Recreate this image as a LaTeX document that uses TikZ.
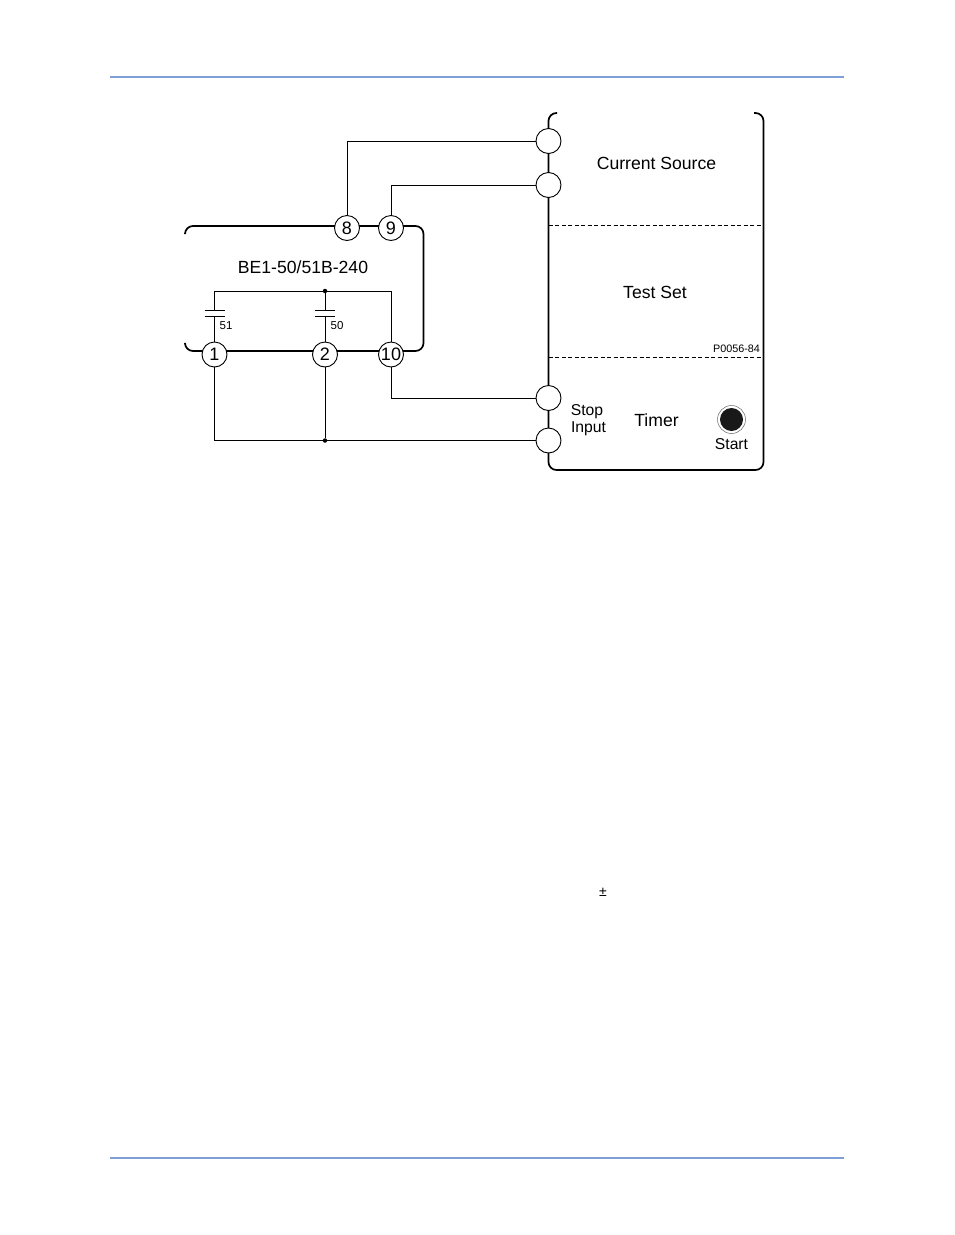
\documentclass[tikz,border=0pt]{standalone}
\usepackage{fontspec}
\setmainfont{Liberation Sans}
\usetikzlibrary{calc}
\definecolor{rulecolor}{RGB}{126,160,214}
\tikzset{
    outline/.style={black,line width=1.7pt,rounded corners=8pt},
    wire/.style={black,line width=0.9pt},
    terminal/.style={draw=black,fill=white,circle,line width=0.9pt,minimum size=25pt,inner sep=0pt,font=\fontsize{18}{18}\selectfont},
    junction/.style={fill=black,circle,minimum size=4.5pt,inner sep=0pt},
    title/.style={font=\fontsize{17.6}{18}\selectfont,inner sep=0pt},
    label/.style={font=\fontsize{15.7}{18}\selectfont,inner sep=0pt},
    small/.style={font=\fontsize{11.5}{12}\selectfont,inner sep=0pt},
}

\begin{document}
\begin{tikzpicture}[x=1pt,y=-1pt]
\useasboundingbox (0,0) rectangle (954,1235);

\coordinate (hl) at (110, 77);
\coordinate (hr) at (844, 77);
\coordinate (fl) at (110, 1158);
\coordinate (fr) at (844, 1158);
\coordinate (p) at (214.5, 310);
\coordinate (pp) at (214.5, 316);
\coordinate (q) at (325, 310);
\coordinate (qq) at (325, 316);
\coordinate (u) at (214.5, 291);
\coordinate (v) at (391, 291);

\newcommand{\medge}[2]{
    \draw[wire] (#1)--(#2);
}

\newcommand{\plate}[1]{
    \draw[wire] ($(#1)+(-10,0)$)--($(#1)+(10,0)$);
}

\newcommand{\drawrules}{
    \draw[rulecolor,line width=1.5pt] (hl)--(hr);
    \draw[rulecolor,line width=1.5pt] (fl)--(fr);
}

\newcommand{\drawoutlines}{
    \draw[outline] (185,233)--(185,226)--(423.5,226)--(423.5,351)--(185,351)--(185,344);
    \draw[outline] (557,113)--(548.5,113)--(548.5,470)--(763.5,470)--(763.5,113)--(754,113);
    \draw[black,line width=0.9pt,dash pattern=on 4pt off 2.5pt] (548.5,225.7)--(763.5,225.7);
    \draw[black,line width=0.9pt,dash pattern=on 4pt off 2.5pt] (548.5,357.3)--(763.5,357.3);
}

\drawrules
\drawoutlines

% terminals
\node[terminal] (t8) at (347, 228) {8};
\node[terminal] (t9) at (391, 228) {9};
\node[terminal] (t1) at (214.5, 354.5) {1};
\node[terminal] (t2) at (325, 354.5) {2};
\node[terminal] (t10) at (391, 354.5) {10};
\node[terminal] (sa) at (548.5, 141) {};
\node[terminal] (sb) at (548.5, 185) {};
\node[terminal] (sc) at (548.5, 398) {};
\node[terminal] (sd) at (548.5, 440.5) {};
\node[junction] (ja) at (325, 291) {};
\node[junction] (jb) at (325, 440.5) {};

\draw[wire] (t8) |- (sa);
\draw[wire] (t9) |- (sb);
\draw[wire] (t10) |- (sc);
\draw[wire] (t1) |- (jb);
\medge{jb}{sd}
\medge{t2}{jb}
\medge{u}{ja}
\medge{ja}{v}
\medge{v}{t10}
\medge{u}{p}
\medge{pp}{t1}
\medge{ja}{q}
\medge{qq}{t2}
\plate{p}
\plate{pp}
\plate{q}
\plate{qq}

% labels
\node[title] (relay) at (303, 267.5) {BE1-50/51B-240};
\node[small] (c51) at (226, 326) {51};
\node[small] (c50) at (337, 326) {50};
\node[title] (source) at (656.5, 163.5) {Current Source};
\node[title] (testset) at (655, 292.5) {Test Set};
\node[small,font=\fontsize{10.8}{12}\selectfont] (pnum) at (736.5, 349) {P0056-84};
\node[label] (stop) at (587, 411.5) {Stop};
\node[label] (input) at (588.5, 429) {Input};
\node[title] (timer) at (656.5, 420.5) {Timer};
\node[draw=black!60,line width=0.5pt,circle,minimum size=28pt,inner sep=0pt] (startring) at (731.5, 419.5) {};
\node[fill=black!90,circle,minimum size=23pt,inner sep=0pt] (startbtn) at (731.5, 419.5) {};
\node[label] (start) at (731.5, 444.5) {Start};
\node[small,font=\fontsize{14}{14}\selectfont] (pm) at (603, 892) {±};
\end{tikzpicture}
\end{document}
